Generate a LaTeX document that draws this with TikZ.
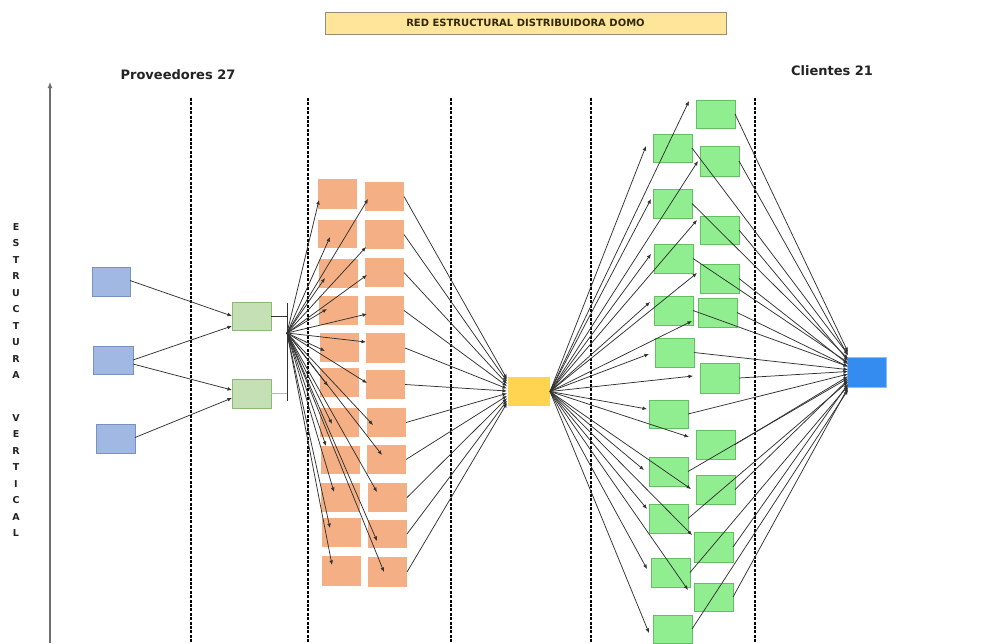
\documentclass[tikz,border=0pt]{standalone}
\usepackage{fontspec}
\setmainfont{DejaVu Sans}
\usetikzlibrary{arrows.meta}
\definecolor{bluefill}{RGB}{160,184,226}
\definecolor{blueborder}{RGB}{120,145,195}
\definecolor{palegfill}{RGB}{197,224,180}
\definecolor{palegborder}{RGB}{140,185,120}
\definecolor{orangefill}{RGB}{244,176,132}
\definecolor{yellowfill}{RGB}{255,212,80}
\definecolor{greenfill}{RGB}{144,238,144}
\definecolor{greenborder}{RGB}{100,190,100}
\definecolor{brightblue}{RGB}{52,140,240}
\definecolor{brightblueborder}{RGB}{140,190,250}
\definecolor{titlefill}{RGB}{255,229,153}
\definecolor{titleborder}{RGB}{150,140,120}
\definecolor{titletext}{RGB}{50,40,10}
\definecolor{linegray}{RGB}{50,50,50}
\definecolor{axisgray}{RGB}{110,110,110}
\definecolor{textdark}{RGB}{35,35,35}
\definecolor{tealline}{RGB}{150,200,185}
\newcommand\mkbox[6]{\node[#1, minimum width={(#5-#3)*1pt}, minimum height={(#6-#4)*1pt}, inner sep=0pt, outer sep=0pt] (#2) at ({(#3+#5)/2},{(#4+#6)/2}) {};}
\begin{document}
\begin{tikzpicture}[x=1pt,y=-1pt,
  supbox/.style={draw=blueborder, fill=bluefill, line width=0.8pt},
  midbox/.style={draw=palegborder, fill=palegfill, line width=0.8pt},
  orbox/.style={fill=orangefill},
  ylbox/.style={fill=yellowfill},
  grbox/.style={draw=greenborder, fill=greenfill, line width=0.7pt},
  clbox/.style={draw=brightblueborder, fill=brightblue, line width=0.6pt},
  ln/.style={draw=linegray, line width=0.8pt},
  arr/.style={draw=linegray, line width=0.75pt, -{Latex[length=4.5pt,width=3.8pt]}},
  divider/.style={draw=black, line width=2.2pt, dash pattern=on 3pt off 1.4pt},
  lbl/.style={font=\bfseries\fontsize{13}{15}\selectfont, text=textdark},
  vlet/.style={font=\bfseries\fontsize{9.5}{11}\selectfont, text=textdark, inner sep=0pt}
]
\useasboundingbox (0,0) rectangle (998,643);
\fill[white] (0,0) rectangle (998,643);

% title
\node[draw=titleborder, fill=titlefill, line width=0.8pt, minimum width=401pt, minimum height=22pt, inner sep=0pt,
      font=\bfseries\fontsize{10}{11}\selectfont, text=titletext] (title) at (525.5,23) {RED ESTRUCTURAL DISTRIBUIDORA DOMO};

% headings
\node[lbl] (prov) at (178,75) {Proveedores 27};
\node[lbl] (cli) at (832,71) {Clientes 21};

% axis
\coordinate (axbot) at (50,643);
\coordinate (axtop) at (50,82);
\draw[draw=axisgray, line width=1.3pt, -{Latex[length=6pt,width=5pt]}] (axbot) -- (axtop);

% vertical letters
\foreach \ch [count=\i from 0] in {E,S,T,R,U,C,T,U,R,A}
  \node[vlet] (va\i) at (16,{227+16.5*\i}) {\ch};
\foreach \ch [count=\i from 0] in {V,E,R,T,I,C,A,L}
  \node[vlet] (vb\i) at (16,{418+16.5*\i}) {\ch};

% dividers
\foreach \xx [count=\i] in {191,308,451,591,755}
  \draw[divider] (\xx,98) coordinate (dtop\i) -- (\xx,643) coordinate (dbot\i);

% supplier boxes
\mkbox{supbox}{S1}{92}{267}{130}{296}
\mkbox{supbox}{S2}{93}{346}{133}{374}
\mkbox{supbox}{S3}{96}{424}{135}{453}
\mkbox{midbox}{G1}{232}{302}{271}{330}
\mkbox{midbox}{G2}{232}{379}{271}{408}

% orange columns
\mkbox{orbox}{L1}{318}{179}{357}{209}
\mkbox{orbox}{L2}{318}{220}{357}{248}
\mkbox{orbox}{L3}{319}{259}{358}{288}
\mkbox{orbox}{L4}{319}{296}{358}{325}
\mkbox{orbox}{L5}{320}{333}{359}{362}
\mkbox{orbox}{L6}{320}{368}{359}{397}
\mkbox{orbox}{L7}{320}{408}{359}{437}
\mkbox{orbox}{L8}{321}{446}{360}{474}
\mkbox{orbox}{L9}{321}{483}{360}{512}
\mkbox{orbox}{L10}{322}{518}{361}{547}
\mkbox{orbox}{L11}{322}{556}{361}{586}
\mkbox{orbox}{R1}{365}{182}{404}{211}
\mkbox{orbox}{R2}{365}{220}{404}{249}
\mkbox{orbox}{R3}{365}{258}{404}{287}
\mkbox{orbox}{R4}{365}{296}{404}{325}
\mkbox{orbox}{R5}{366}{333}{405}{363}
\mkbox{orbox}{R6}{366}{370}{405}{399}
\mkbox{orbox}{R7}{367}{408}{406}{437}
\mkbox{orbox}{R8}{367}{445}{406}{474}
\mkbox{orbox}{R9}{368}{483}{407}{512}
\mkbox{orbox}{R10}{368}{520}{407}{548}
\mkbox{orbox}{R11}{368}{557}{407}{587}

% distributor
\mkbox{ylbox}{Y}{508}{377}{550}{406}

% clients
\mkbox{grbox}{A1}{653}{134}{692}{162}
\mkbox{grbox}{A2}{653}{189}{692}{218}
\mkbox{grbox}{A3}{654}{244}{693}{273}
\mkbox{grbox}{A4}{654}{296}{693}{325}
\mkbox{grbox}{A5}{655}{338}{694}{367}
\mkbox{grbox}{A6}{649}{400}{688}{428}
\mkbox{grbox}{A7}{649}{457}{688}{486}
\mkbox{grbox}{A8}{649}{504}{688}{533}
\mkbox{grbox}{A9}{651}{558}{690}{587}
\mkbox{grbox}{A10}{653}{615}{692}{643}
\mkbox{grbox}{B1}{696}{100}{735}{128}
\mkbox{grbox}{B2}{700}{146}{739}{176}
\mkbox{grbox}{B3}{700}{216}{739}{244}
\mkbox{grbox}{B4}{700}{264}{739}{293}
\mkbox{grbox}{B5}{698}{298}{737}{327}
\mkbox{grbox}{B6}{700}{363}{739}{393}
\mkbox{grbox}{B7}{696}{430}{735}{459}
\mkbox{grbox}{B8}{696}{475}{735}{504}
\mkbox{grbox}{B9}{694}{532}{733}{562}
\mkbox{grbox}{B10}{694}{583}{733}{611}

% final client
\mkbox{clbox}{BL}{847}{357}{886}{387}

% suppliers -> intermediates
\draw[arr] ([shift={(0,-1)}]S1.east) -- ([shift={(0,0)}]G1.west);
\draw[arr] ([shift={(0,0)}]S2.east) -- ([shift={(0,10)}]G1.west);
\draw[arr] ([shift={(0,4)}]S2.east) -- ([shift={(0,-3.5)}]G2.west);
\draw[arr] ([shift={(0,-1)}]S3.east) -- ([shift={(0,4.5)}]G2.west);

% bracket
\coordinate (brk) at (287,333);
\coordinate (brktop) at (287,303);
\coordinate (brkbot) at (287,401);
\draw[ln] (brktop) -- (brkbot);
\draw[ln] (G1.east) -- (G1.east -| brk);
\draw[draw=tealline, line width=0.9pt] (G2.east) -- (G2.east -| brk);

% fan to orange
\foreach \n/\dx/\dy in {L1/1/6, L2/12/3, L3/6/4.5, L4/8/-1.5, L5/5/3.5, L6/8/3.5, L7/12/1.5, L8/5/-14, L9/13/-5.5, L10/8/-4.5, L11/10/-6,
  R1/3/2.5, R2/1/12.5, R3/2/2.5, R4/2/3.5, R5/0/-6, R6/1/-1.5, R7/6/2.5, R8/15/-4.5, R9/9/-5.5, R10/9/7, R11/16/0}
  \draw[arr] (brk) -- ([shift={(\dx,\dy)}]\n.west);

% orange -> distributor
\foreach \i in {1,...,11}
  \draw[arr] (R\i.east) -- ([shift={(-1,{379+2.4*(\i-1)-391.5})}]Y.west);

% distributor -> clients
\foreach \n/\dx/\dy in {B1/-7/-13, A1/-7/-2, B2/-2/0, A2/-2/-4.5, B3/-3/-10, A3/-3/-4.5, B4/-3/-5.5, A4/-4/-8.5, B5/-6/8.5, A5/-6/1.5,
  B6/-7/-2, A6/-2/-5, B7/-7/-7.5, A7/-5/-1.5, B8/-5/-0.5, A8/-2/-9.5, B9/-2/-12, A9/-4/-3.5, B10/-6/-7, A10/-4/4}
  \draw[arr] (Y.east) -- ([shift={(\dx,\dy)}]\n.west);

% clients -> final
\foreach \n/\ty in {B1/352, A1/354.5, B2/355.5, A2/358.6, B3/360.6, A3/362.6, B4/364.1, A4/366.5, B5/366.6, A5/369.6,
  B6/371.5, A6/374.1, B7/376.3, A7/378.3, B8/379.7, A8/381.8, B9/384, A9/385.8, B10/387.6, A10/390}
  \draw[arr] (\n.east) -- ([shift={(1,{\ty-372})}]BL.west);
\end{tikzpicture}
\end{document}
